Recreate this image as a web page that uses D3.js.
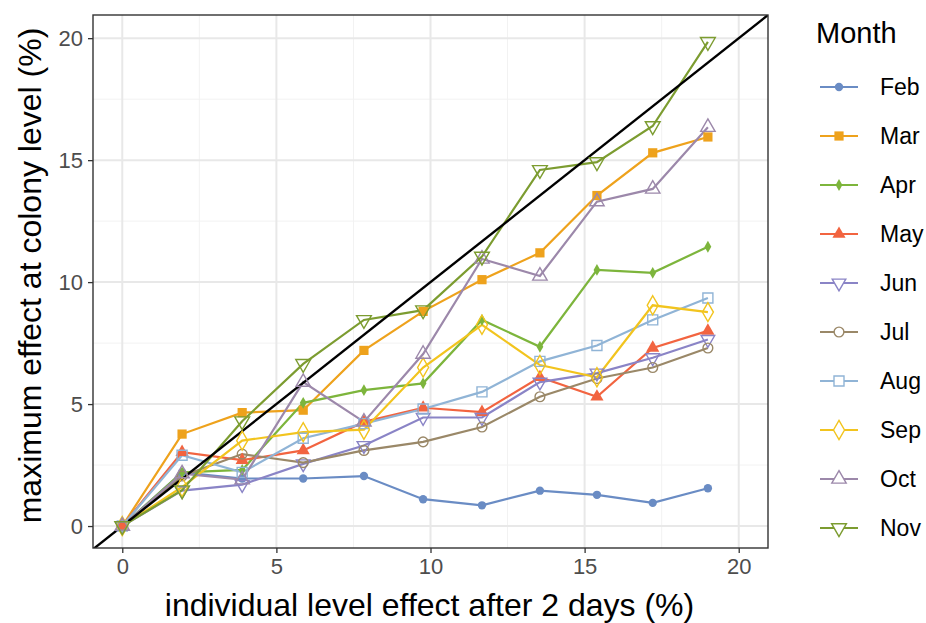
<!DOCTYPE html>
<html>
<head>
<meta charset="utf-8">
<script src="https://cdn.jsdelivr.net/npm/d3@7"></script>
<style>
  body { margin: 0; background: #fff; }
  svg { font-family: "Liberation Sans", Arial, sans-serif; }
</style>
</head>
<body>
<div id="chart"></div>
<script>
// individual level effect after 2 days (%)
var xVals = [0, 1.94, 3.89, 5.87, 7.84, 9.76, 11.67, 13.55, 15.4, 17.21, 19.0];

var months = ["Feb", "Mar", "Apr", "May", "Jun", "Jul", "Aug", "Sep", "Oct", "Nov"];

// maximum effect at colony level (%)
var feb = [0, 2.2, 1.95, 1.95, 2.05, 1.1, 0.85, 1.45, 1.28, 0.95, 1.55];
var mar = [0, 3.77, 4.65, 4.75, 7.2, 8.8, 10.1, 11.2, 13.55, 15.3, 15.95];
var apr = [0, 2.2, 2.3, 5.05, 5.57, 5.85, 8.45, 7.35, 10.5, 10.38, 11.45];
var may = [0, 3.03, 2.7, 3.1, 4.27, 4.85, 4.67, 6.1, 5.3, 7.3, 8.0];
var jun = [0, 1.45, 1.7, 2.55, 3.3, 4.45, 4.45, 5.9, 6.27, 6.9, 7.65];
var jul = [0, 2.05, 2.95, 2.6, 3.1, 3.45, 4.06, 5.3, 6.05, 6.5, 7.3];
var aug = [0, 2.9, 2.2, 3.6, 4.2, 4.8, 5.5, 6.75, 7.4, 8.45, 9.35];
var sep = [0, 1.6, 3.5, 3.85, 3.95, 6.5, 8.25, 6.6, 6.1, 9.05, 8.77];
var oct = [0, 2.15, 1.9, 5.9, 4.27, 7.05, 10.95, 10.25, 13.3, 13.82, 16.35];
var nov = [0, 1.47, 4.3, 6.65, 8.45, 8.85, 11.05, 14.6, 14.92, 16.4, 19.85];

var seriesValues = [feb, mar, apr, may, jun, jul, aug, sep, oct, nov];

var xTicks = [0, 5, 10, 15, 20];
var yTicks = [0, 5, 10, 15, 20];

(function() {
  var colors = ["#6a8cc4", "#eea21c", "#7db53c", "#f26440", "#8a84c6",
                "#9a8868", "#90b4d6", "#f2c41e", "#9c88aa", "#7c9c30"];
  // shape, filled, size
  var shapes = [
    ["circle", true, 55], ["square", true, 85], ["diamond", true, 40], ["triangle", true, 75],
    ["down", false, 80], ["circle", false, 75], ["square", false, 100], ["diamond", false, 105],
    ["triangle", false, 90], ["down", false, 95]
  ];

  var W = 926, H = 623;
  var pL = 93, pR = 768, pT = 15, pB = 548;

  var svg = d3.select("#chart").append("svg").attr("width", W).attr("height", H);

  var x = d3.scaleLinear().domain([-0.95, 20.95]).range([pL, pR]);
  var y = d3.scaleLinear().domain([-0.9, 20.95]).range([pB, pT]);

  function symbolPath(kind, size) {
    var t = { circle: d3.symbolCircle, square: d3.symbolSquare, diamond: d3.symbolDiamond,
              triangle: d3.symbolTriangle, down: d3.symbolTriangle }[kind];
    return d3.symbol().type(t).size(size)();
  }

  // grid
  var grid = svg.append("g");
  var minor = [2.5, 7.5, 12.5, 17.5];
  grid.selectAll(".mx").data(minor).enter().append("line")
    .attr("x1", function(d){ return x(d); }).attr("x2", function(d){ return x(d); })
    .attr("y1", pT).attr("y2", pB)
    .attr("stroke", "#f2f2f2").attr("stroke-width", 1);
  grid.selectAll(".my").data(minor).enter().append("line")
    .attr("y1", function(d){ return y(d); }).attr("y2", function(d){ return y(d); })
    .attr("x1", pL).attr("x2", pR)
    .attr("stroke", "#f2f2f2").attr("stroke-width", 1);
  grid.selectAll(".gx").data(xTicks).enter().append("line")
    .attr("x1", function(d){ return x(d); }).attr("x2", function(d){ return x(d); })
    .attr("y1", pT).attr("y2", pB)
    .attr("stroke", "#e8e8e8").attr("stroke-width", 2);
  grid.selectAll(".gy").data(yTicks).enter().append("line")
    .attr("y1", function(d){ return y(d); }).attr("y2", function(d){ return y(d); })
    .attr("x1", pL).attr("x2", pR)
    .attr("stroke", "#e8e8e8").attr("stroke-width", 2);

  svg.append("clipPath").attr("id", "clip").append("rect")
    .attr("x", pL).attr("y", pT).attr("width", pR - pL).attr("height", pB - pT);

  var plot = svg.append("g").attr("clip-path", "url(#clip)");

  var line = d3.line().x(function(d){ return x(d[0]); }).y(function(d){ return y(d[1]); });

  seriesValues.forEach(function(vals, i) {
    var pts = xVals.map(function(xv, k){ return [xv, vals[k]]; });
    plot.append("path").attr("d", line(pts))
      .attr("fill", "none").attr("stroke", colors[i]).attr("stroke-width", 2.2);
  });

  // identity line
  plot.append("line")
    .attr("x1", x(-2)).attr("y1", y(-2)).attr("x2", x(22)).attr("y2", y(22))
    .attr("stroke", "#000").attr("stroke-width", 2.4);

  seriesValues.forEach(function(vals, i) {
    var sh = shapes[i];
    var pts = xVals.map(function(xv, k){ return [xv, vals[k]]; });
    svg.append("g").selectAll("path").data(pts).enter().append("path")
      .attr("d", symbolPath(sh[0], sh[2]))
      .attr("transform", function(d){
        return "translate(" + x(d[0]) + "," + y(d[1]) + ")" + (sh[0] === "down" ? " rotate(180)" : "");
      })
      .attr("fill", sh[1] ? colors[i] : "none")
      .attr("stroke", colors[i])
      .attr("stroke-width", sh[1] ? 0 : 1.4);
  });

  // panel border
  svg.append("rect").attr("x", pL).attr("y", pT).attr("width", pR - pL).attr("height", pB - pT)
    .attr("fill", "none").attr("stroke", "#333").attr("stroke-width", 1.4);

  // axes
  var xAxis = svg.append("g").attr("transform", "translate(0," + pB + ")")
    .call(d3.axisBottom(x).tickValues(xTicks).tickSize(5).tickPadding(5));
  var yAxis = svg.append("g").attr("transform", "translate(" + pL + ",0)")
    .call(d3.axisLeft(y).tickValues(yTicks).tickSize(5).tickPadding(5));
  [xAxis, yAxis].forEach(function(a) {
    a.attr("font-size", 22).attr("font-family", "'Liberation Sans', Arial, sans-serif");
    a.select(".domain").remove();
    a.selectAll(".tick line").attr("stroke", "#333").attr("stroke-width", 1.3);
    a.selectAll(".tick text").attr("fill", "#4d4d4d");
  });

  svg.append("text").attr("x", (pL + pR) / 2 - 1).attr("y", 616)
    .attr("text-anchor", "middle").attr("font-size", 32).attr("fill", "#000")
    .text("individual level effect after 2 days (%)");
  svg.append("text").attr("transform", "translate(41," + ((pT + pB) / 2 - 6) + ") rotate(-90)")
    .attr("text-anchor", "middle").attr("font-size", 32).attr("fill", "#000")
    .text("maximum effect at colony level (%)");

  // legend
  var legend = svg.append("g");
  legend.append("text").attr("x", 816).attr("y", 43).attr("font-size", 29).attr("fill", "#000").text("Month");
  months.forEach(function(m, i) {
    var ly = 87 + i * 49;
    var sh = shapes[i];
    var g = legend.append("g");
    g.append("line").attr("x1", 820).attr("x2", 858).attr("y1", ly).attr("y2", ly)
      .attr("stroke", colors[i]).attr("stroke-width", 2.2);
    g.append("path").attr("d", symbolPath(sh[0], sh[2]))
      .attr("transform", "translate(839," + ly + ")" + (sh[0] === "down" ? " rotate(180)" : ""))
      .attr("fill", sh[1] ? colors[i] : "#fff")
      .attr("stroke", colors[i]).attr("stroke-width", sh[1] ? 0 : 1.4);
    g.append("text").attr("x", 880).attr("y", ly + 8).attr("font-size", 23).attr("fill", "#000").text(m);
  });
})();
</script>
</body>
</html>
